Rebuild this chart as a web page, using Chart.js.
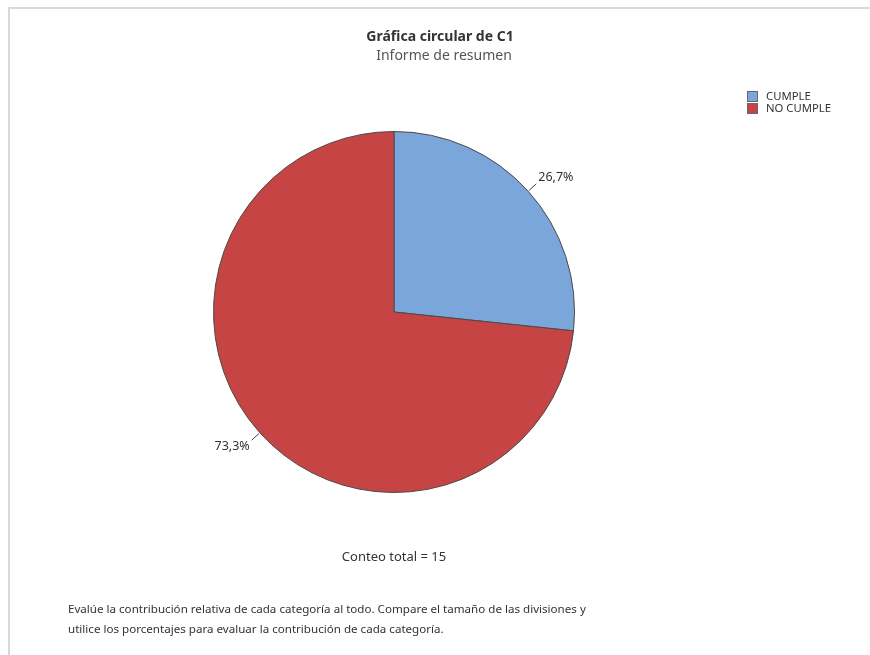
<!DOCTYPE html>
<html>
<head>
<meta charset="utf-8">
<script src="https://cdn.jsdelivr.net/npm/chart.js@4"></script>
<style>
  html, body { margin: 0; padding: 0; background: #fff; }
  #wrap { position: relative; width: 870px; height: 655px; }
</style>
</head>
<body>
<div id="wrap"><canvas id="myChart" width="870" height="655"></canvas></div>
<script>
// datos de la grafica
const categorias = ['CUMPLE', 'NO CUMPLE'];
const conteos = [4, 11];
const etiquetas = ['26,7%', '73,3%'];
const colores = ['#7BA6DA', '#C64444'];

const titulo = 'Gráfica circular de C1';
const subtitulo = 'Informe de resumen';
const notaTotal = 'Conteo total = 15';
const comentario = [
  'Evalúe la contribución relativa de cada categoría al todo. Compare el tamaño de las divisiones y',
  'utilice los porcentajes para evaluar la contribución de cada categoría.'
];

const fuente = '"Noto Sans", "Open Sans", sans-serif';

// dibuja marco, textos, leyenda y etiquetas
const extras = {
  id: 'extras',
  beforeDraw(chart) {
    const c = chart.ctx;
    c.save();
    c.strokeStyle = '#d9d9d9';
    c.lineWidth = 2;
    c.beginPath();
    c.moveTo(9, 655);
    c.lineTo(9, 8);
    c.lineTo(870, 8);
    c.stroke();
    c.restore();
  },
  afterDraw(chart) {
    const c = chart.ctx;
    c.save();
    c.textBaseline = 'middle';
    c.textAlign = 'center';
    c.fillStyle = '#333';
    c.font = 'bold 14px ' + fuente;
    c.fillText(titulo, 440, 37);
    c.fillStyle = '#555';
    c.font = '14px ' + fuente;
    c.fillText(subtitulo, 444, 56);

    c.fillStyle = '#333';
    c.font = '13px ' + fuente;
    c.fillText(notaTotal, 394, 557);

    c.textAlign = 'left';
    c.font = '11.6px ' + fuente;
    comentario.forEach((t, i) => c.fillText(t, 68, 610 + i * 20));

    // leyenda
    categorias.forEach((cat, i) => {
      const y = 91 + i * 12;
      c.fillStyle = colores[i];
      c.fillRect(747, y, 11, 11);
      c.strokeStyle = '#666';
      c.lineWidth = 1;
      c.strokeRect(747.5, y + 0.5, 10, 10);
      c.fillStyle = '#333';
      c.font = '11.3px ' + fuente;
      c.fillText(cat, 766, y + 6);
    });

    // etiquetas de porcentaje
    const meta = chart.getDatasetMeta(0);
    meta.data.forEach((arc, i) => {
      const a = (arc.startAngle + arc.endAngle) / 2;
      const r = arc.outerRadius;
      const x1 = arc.x + Math.cos(a) * (r + 1);
      const y1 = arc.y + Math.sin(a) * (r + 1);
      const x2 = arc.x + Math.cos(a) * (r + 11);
      const y2 = arc.y + Math.sin(a) * (r + 11);
      c.strokeStyle = '#444';
      c.lineWidth = 1;
      c.beginPath();
      c.moveTo(x1, y1);
      c.lineTo(x2, y2);
      c.stroke();
      c.fillStyle = '#333';
      c.font = '12.5px ' + fuente;
      const derecha = Math.cos(a) >= 0;
      c.textAlign = derecha ? 'left' : 'right';
      c.fillText(etiquetas[i], x2 + (derecha ? 2 : -2), y2 + 6 * Math.sign(Math.sin(a)));
    });
    c.restore();
  }
};

new Chart(document.getElementById('myChart'), {
  type: 'pie',
  data: {
    labels: categorias,
    datasets: [{
      data: conteos,
      backgroundColor: colores,
      borderColor: '#4a4a4a',
      borderWidth: 1
    }]
  },
  options: {
    responsive: false,
    animation: false,
    layout: { padding: { left: 213, right: 295, top: 131, bottom: 162 } },
    plugins: {
      legend: { display: false },
      tooltip: { enabled: false },
      title: { display: false }
    }
  },
  plugins: [extras]
});
</script>
</body>
</html>
